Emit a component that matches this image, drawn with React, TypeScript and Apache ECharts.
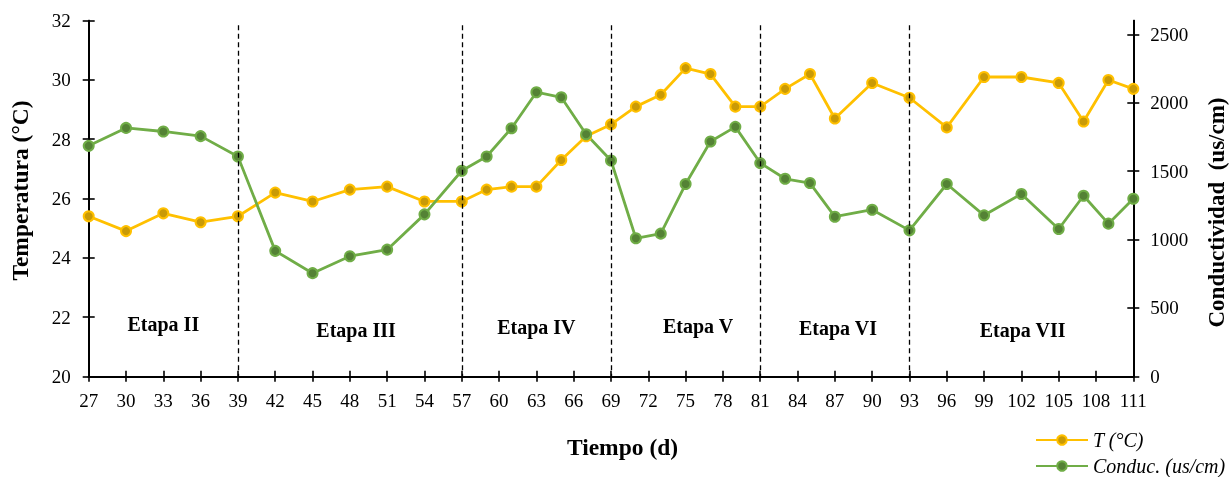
import React, { useEffect, useRef } from "react";
import * as echarts from "echarts";

const days = [27, 30, 33, 36, 39, 42, 45, 48, 51, 54, 57, 59, 61, 63, 65, 67, 69, 71, 73, 75, 77, 79, 81, 83, 85, 87, 90, 93, 96, 99, 102, 105, 107, 109, 111];
const temperature = [25.4, 24.9, 25.5, 25.2, 25.4, 26.2, 25.9, 26.3, 26.4, 25.9, 25.9, 26.3, 26.4, 26.4, 27.3, 28.1, 28.5, 29.1, 29.5, 30.4, 30.2, 29.1, 29.1, 29.7, 30.2, 28.7, 29.9, 29.4, 28.4, 30.1, 30.1, 29.9, 28.6, 30.0, 29.7];
const conductivity = [1685, 1816, 1790, 1756, 1607, 917, 754, 878, 926, 1184, 1503, 1607, 1814, 2077, 2040, 1770, 1578, 1009, 1043, 1406, 1717, 1824, 1559, 1444, 1413, 1167, 1218, 1067, 1406, 1177, 1333, 1077, 1320, 1116, 1298];
const rightTicks = [0, 500, 1000, 1500, 2000, 2500];
const stageBounds = [39, 57, 69, 81, 93];
const stageNames = ["Etapa II", "Etapa III", "Etapa IV", "Etapa V", "Etapa VI", "Etapa VII"];
const stageLabelX = [33, 48.5, 63, 76, 87.25, 102.1];
const stageLabelY = [21.77, 21.55, 21.67, 21.71, 21.62, 21.56];
const seriesNames = ["T (°C)", "Conduc. (us/cm)"];

const FONT = "'Liberation Serif', 'Times New Roman', serif";

export default function App() {
  const ref = useRef<HTMLDivElement>(null);
  useEffect(() => {
    if (!ref.current) return;
    const chart = echarts.init(ref.current, null, { renderer: "svg" });
    const axisLine = { show: true, lineStyle: { color: "#000", width: 2 } };
    const tickStyle = { color: "#000", width: 1.6 };
    const labelStyle = { color: "#000", fontFamily: FONT, fontSize: 19, formatter: (v: number) => String(v) };
    const xBase = { type: "value", min: 27, max: 111, interval: 3, position: "bottom", splitLine: { show: false } };
    const yLeftBase = { type: "value", min: 20, max: 32, interval: 2, position: "left", splitLine: { show: false } };
    const yRightBase = { type: "value", min: 0, max: 2600, interval: 500, position: "right", splitLine: { show: false } };
    const legendBase = {
      orient: "vertical",
      left: 1035,
      padding: 0,
      itemWidth: 52,
      itemHeight: 12,
      textStyle: { fontFamily: FONT, fontSize: 20, fontStyle: "italic", color: "#000" },
    };
    chart.setOption({
      animation: false,
      grid: { left: 88.7, right: 96.7, top: 20.7, bottom: 100.7, containLabel: false },
      xAxis: [
        { ...xBase, axisLine, axisTick: { show: true, length: 5.5, lineStyle: tickStyle }, axisLabel: { ...labelStyle, margin: 15 } },
        { ...xBase, axisLine, axisTick: { show: true, inside: true, length: 5.5, lineStyle: tickStyle }, axisLabel: { show: false } },
      ],
      yAxis: [
        { ...yLeftBase, axisLine, axisTick: { show: true, length: 6, lineStyle: tickStyle }, axisLabel: { ...labelStyle, margin: 18 } },
        {
          ...yRightBase, axisLine,
          axisTick: { show: true, length: 6, lineStyle: tickStyle, customValues: rightTicks },
          axisLabel: { ...labelStyle, margin: 17, customValues: rightTicks },
        },
        { ...yLeftBase, axisLine, axisTick: { show: true, inside: true, length: 6, lineStyle: tickStyle }, axisLabel: { show: false } },
        { ...yRightBase, axisLine, axisTick: { show: true, inside: true, length: 6, lineStyle: tickStyle, customValues: rightTicks }, axisLabel: { show: false } },
      ],
      legend: [
        { ...legendBase, top: 430, data: [seriesNames[0]] },
        { ...legendBase, top: 456, data: [seriesNames[1]] },
      ],
      graphic: [
        {
          type: "text", x: 19.5, y: 190.5, rotation: Math.PI / 2,
          style: { text: "Temperatura (°C)", fontFamily: FONT, fontSize: 23.5, fontWeight: "bold", fill: "#000", align: "center", verticalAlign: "middle" },
        },
        {
          type: "text", x: 1216.5, y: 212.5, rotation: Math.PI / 2,
          style: { text: "Conductividad  (us/cm)", fontFamily: FONT, fontSize: 23, fontWeight: "bold", fill: "#000", align: "center", verticalAlign: "middle" },
        },
        {
          type: "text", x: 622.5, y: 447,
          style: { text: "Tiempo (d)", fontFamily: FONT, fontSize: 23.5, fontWeight: "bold", fill: "#000", align: "center", verticalAlign: "middle" },
        },
      ],
      series: [
        {
          name: seriesNames[0],
          type: "line",
          xAxisIndex: 0,
          yAxisIndex: 0,
          data: days.map((d, i) => [d, temperature[i]]),
          symbol: "circle",
          symbolSize: 10,
          lineStyle: { color: "#FFC000", width: 2.8 },
          itemStyle: { color: "#C99A06", borderColor: "#FFC000", borderWidth: 2 },
          markLine: {
            silent: true,
            symbol: ["none", "none"],
            label: { show: false },
            lineStyle: { color: "#000", type: [5, 3.5], width: 1.3 },
            data: stageBounds.map((b) => [{ coord: [b, 31.85] }, { coord: [b, 20] }]),
          },
          markPoint: {
            silent: true,
            symbol: "circle",
            symbolSize: 1,
            itemStyle: { color: "rgba(0,0,0,0)" },
            label: { show: true, position: "inside", formatter: "{b}", fontFamily: FONT, fontSize: 20, fontWeight: "bold", color: "#000" },
            data: stageNames.map((n, i) => ({ name: n, coord: [stageLabelX[i], stageLabelY[i]] })),
          },
        },
        {
          name: seriesNames[1],
          type: "line",
          xAxisIndex: 0,
          yAxisIndex: 1,
          data: days.map((d, i) => [d, conductivity[i]]),
          symbol: "circle",
          symbolSize: 10,
          lineStyle: { color: "#70AD47", width: 2.8 },
          itemStyle: { color: "#548235", borderColor: "#70AD47", borderWidth: 2 },
        },
        { name: "tickHelperLeft", type: "line", xAxisIndex: 1, yAxisIndex: 2, data: [[27, 20]], symbol: "none", lineStyle: { opacity: 0 }, silent: true },
        { name: "tickHelperRight", type: "line", xAxisIndex: 1, yAxisIndex: 3, data: [[27, 0]], symbol: "none", lineStyle: { opacity: 0 }, silent: true },
      ],
    });
    return () => chart.dispose();
  }, []);
  return <div ref={ref} style={{ position: "fixed", left: 0, top: 0, width: 1230, height: 477 }} />;
}
